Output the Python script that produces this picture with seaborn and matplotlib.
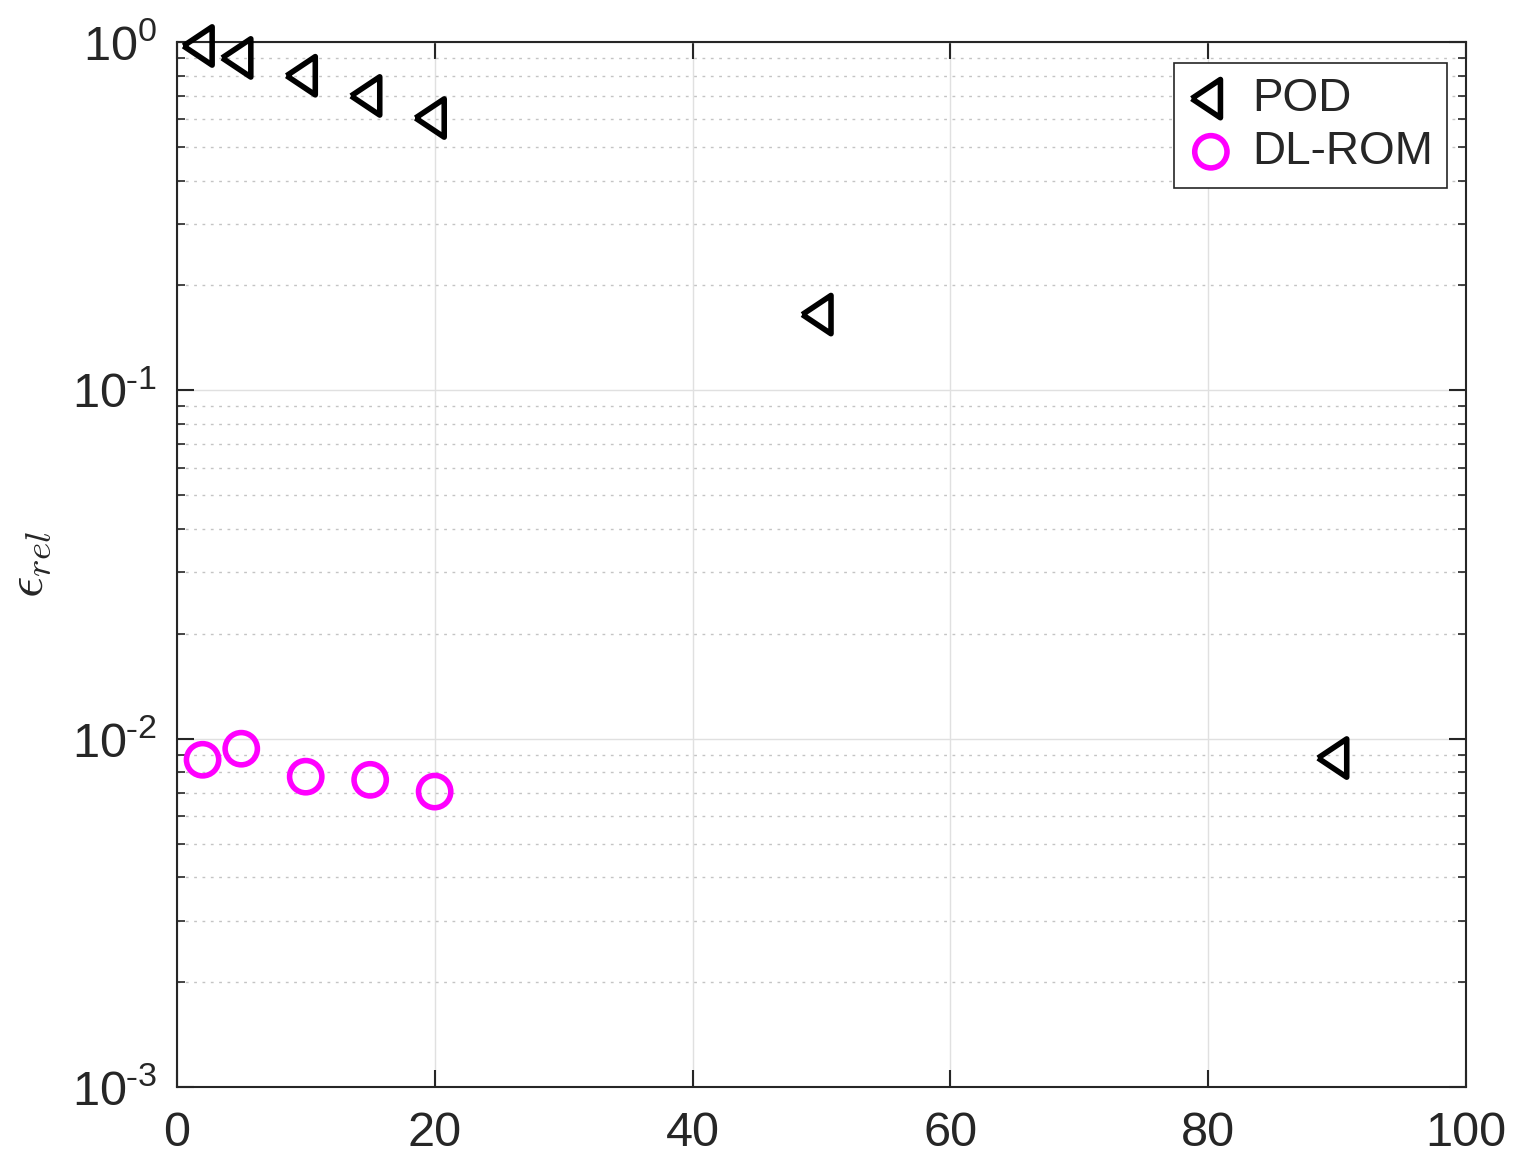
import numpy as np
import pandas as pd
import seaborn as sns
import matplotlib
matplotlib.use("Agg")
import matplotlib.pyplot as plt
from matplotlib.ticker import LogLocator, NullFormatter, FuncFormatter

# values
pod_x = [2, 5, 10, 15, 20, 50, 90]
pod_err = [0.974, 0.90, 0.80, 0.70, 0.605, 0.165, 0.0088]
dl_x = [2, 5, 10, 15, 20]
dl_err = [0.0087, 0.00936, 0.00778, 0.00762, 0.00705]

sns.set_theme(style="ticks")
plt.rcParams["font.family"] = ["Liberation Sans", "DejaVu Sans"]
plt.rcParams["mathtext.fontset"] = "cm"
plt.rcParams["mathtext.default"] = "regular"
plt.rcParams["axes.unicode_minus"] = False

axis_gray = "#262626"
# left-pointing triangle, centroid on the data point (like MATLAB)
tri_left = [(-1.0, 0), (0.5, -1), (0.5, 1), (-1.0, 0)]

fig = plt.figure(figsize=(15.24, 11.63), dpi=100)
ax = fig.add_axes([0.116, 0.0653, 0.846, 0.8986])

pod = pd.DataFrame({"x": pod_x, "err": pod_err})
dl = pd.DataFrame({"x": dl_x, "err": dl_err})

sns.scatterplot(data=pod, x="x", y="err", ax=ax, marker=tri_left, s=760,
                color="black", facecolors="none", edgecolors="black",
                linewidth=4.0, label="POD", zorder=3, clip_on=False)
sns.scatterplot(data=dl, x="x", y="err", ax=ax, marker="o", s=540,
                color="#ff00ff", facecolors="none", edgecolors="#ff00ff",
                linewidth=4.0, label="DL-ROM", zorder=3, clip_on=False)

ax.set_yscale("log")
ax.set_xlim(0, 100)
ax.set_ylim(1e-3, 1)
ax.set_xticks([0, 20, 40, 60, 80, 100])
ax.yaxis.set_major_locator(LogLocator(base=10, numticks=10))
ax.yaxis.set_minor_locator(LogLocator(base=10, subs=np.arange(2, 10), numticks=20))
ax.yaxis.set_minor_formatter(NullFormatter())


def pow10(v, pos):
    e = int(round(np.log10(v)))
    if e < 0:
        return r"$\mathdefault{10^{\text{-}%d}}$" % (-e)
    return r"$\mathdefault{10^{%d}}$" % e


ax.yaxis.set_major_formatter(FuncFormatter(pow10))

ax.set_xlabel("")
ax.set_ylabel(r"$\mathit{\epsilon}_{\mathit{rel}}$", fontsize=38, color=axis_gray, labelpad=13)

ax.grid(which="major", axis="both", color="#e0e0e0", linewidth=1.0, linestyle="-")
ax.grid(which="minor", axis="y", color="#c4c4c4", linewidth=1.0, linestyle=(0, (2, 4)))
ax.set_axisbelow(True)

ax.tick_params(which="major", direction="in", length=12, width=1.5,
               top=True, right=True, labelsize=35, colors=axis_gray)
ax.tick_params(axis="x", which="major", pad=17)
ax.tick_params(axis="y", which="major", pad=14)
ax.tick_params(which="minor", direction="in", length=6, width=1.2,
               top=False, right=True, left=True, colors=axis_gray)
for sp in ax.spines.values():
    sp.set_color(axis_gray)
    sp.set_linewidth(1.5)

leg = ax.legend(loc="upper right", fontsize=33, frameon=True, fancybox=False,
                edgecolor=axis_gray, handletextpad=0.4, borderpad=0.3,
                labelspacing=0.2, handlelength=1.0, borderaxespad=0,
                bbox_to_anchor=(0.985, 0.98))
leg.get_frame().set_linewidth(1.2)
leg.get_frame().set_alpha(1)

fig.savefig("out.png", dpi=100)
